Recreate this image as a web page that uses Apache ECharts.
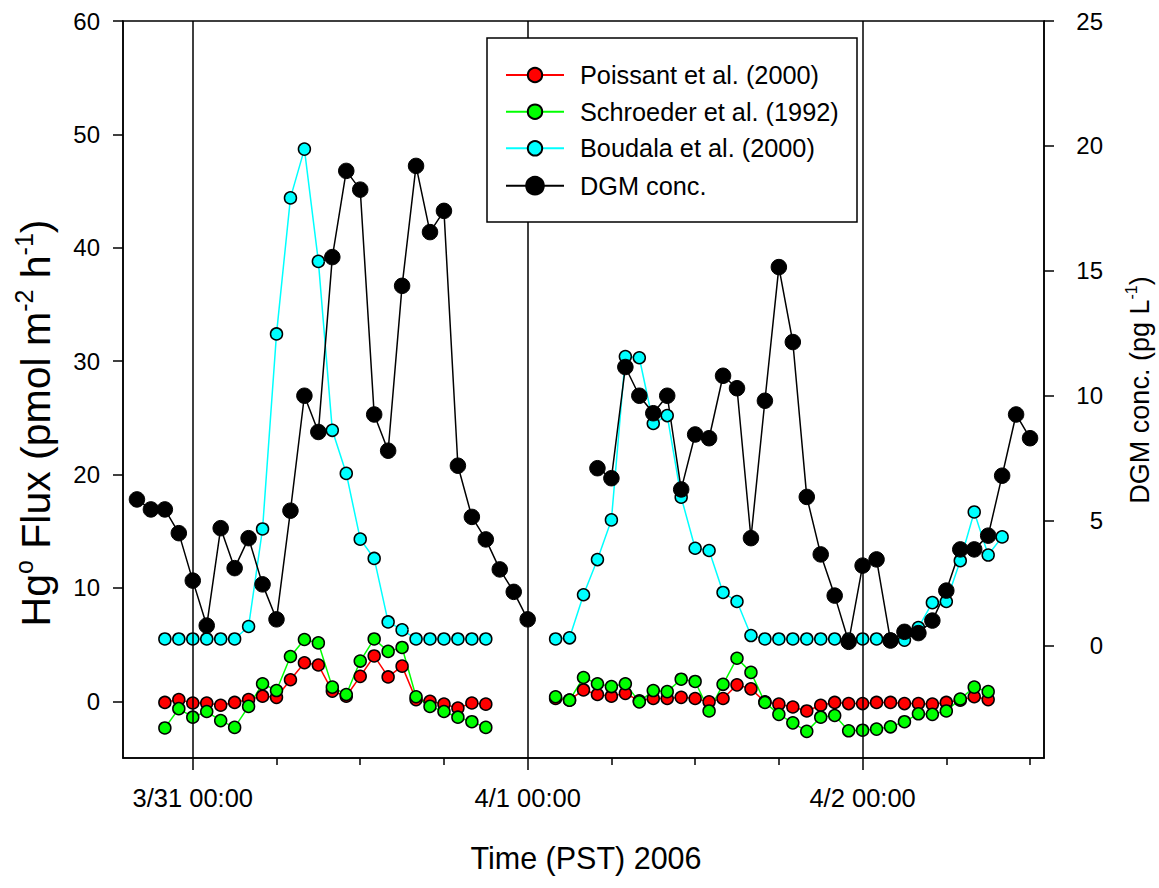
<!DOCTYPE html>
<html>
<head>
<meta charset="utf-8">
<script src="https://cdn.jsdelivr.net/npm/echarts@6/dist/echarts.min.js"></script>
<style>
  html, body { margin: 0; padding: 0; background: #fff; }
  #chart { width: 1159px; height: 888px; }
</style>
</head>
<body>
<div id="chart"></div>
<script>
// x: hours relative to 2006-03-31 00:00 PST
const hours = [-4,-3,-2,-1,0,1,2,3,4,5,
  6,7,8,9,10,11,12,13,14,15,
  16,17,18,19,20,21,22,23,24,25,
  26,27,28,29,30,31,32,33,34,35,
  36,37,38,39,40,41,42,43,44,45,
  46,47,48,49,50,51,52,53,54,55,
  56,57,58,59,60];

// Hg0 flux, pmol m-2 h-1 (left axis)
const poissant = [null, null, -0.1, 0.15, -0.15, -0.15, -0.35, -0.1, 0.15, 0.45,
  0.35, 1.9, 3.4, 3.2, 0.9, 0.45, 2.2, 4.0, 2.15, 3.1,
  0.15, 0.0, -0.25, -0.6, -0.15, -0.25, null, null, null, null,
  0.25, 0.1, 1.0, 0.6, 0.45, 0.7, 0.05, 0.25, 0.25, 0.35,
  0.25, -0.05, 0.25, 1.45, 1.1, -0.05, -0.25, -0.5, -0.85, -0.35,
  -0.1, -0.2, -0.2, -0.1, -0.1, -0.2, -0.2, -0.25, -0.1, 0.1,
  0.4, 0.15, null, null, null];

const schroeder = [null, null, -2.35, -0.65, -1.4, -0.9, -1.7, -2.3, -0.45, 1.55,
  0.95, 3.95, 5.45, 5.15, 1.25, 0.6, 3.55, 5.5, 4.4, 4.75,
  0.4, -0.45, -0.9, -1.4, -1.8, -2.3, null, null, null, null,
  0.4, 0.1, 2.1, 1.55, 1.3, 1.55, -0.05, 0.95, 0.85, 1.95,
  1.75, -0.85, 1.5, 3.8, 2.55, -0.1, -1.15, -1.9, -2.65, -1.4,
  -1.25, -2.6, -2.55, -2.45, -2.25, -1.8, -1.1, -1.15, -0.85, 0.2,
  1.25, 0.85, null, null, null];

const boudala = [null, null, 5.5, 5.5, 5.5, 5.5, 5.5, 5.5, 6.6, 15.2,
  32.4, 44.4, 48.7, 38.8, 23.9, 20.1, 14.3, 12.6, 7.0, 6.3,
  5.5, 5.5, 5.5, 5.5, 5.5, 5.5, null, null, null, null,
  5.5, 5.6, 9.4, 12.5, 16.0, 30.4, 30.3, 24.5, 25.2, 18.0,
  13.5, 13.3, 9.6, 8.8, 5.8, 5.5, 5.5, 5.5, 5.5, 5.5,
  5.5, 5.5, 5.5, 5.5, 5.5, 5.4, 6.5, 8.7, 8.8, 12.4,
  16.7, 12.9, 14.5, null, null];

// DGM concentration, pg L-1 (right axis)
const dgm = [5.85, 5.45, 5.45, 4.5, 2.6, 0.8, 4.7, 3.1, 4.3, 2.45,
  1.05, 5.4, 10.0, 8.55, 15.55, 19.0, 18.25, 9.25, 7.8, 14.4,
  19.2, 16.55, 17.4, 7.2, 5.15, 4.25, 3.05, 2.15, 1.05, null,
  null, null, null, 7.1, 6.7, 11.15, 10.0, 9.3, 10.0, 6.25,
  8.45, 8.3, 10.8, 10.3, 4.3, 9.8, 15.15, 12.15, 5.95, 3.65,
  2.0, 0.15, 3.2, 3.45, 0.2, 0.55, 0.5, 1.0, 2.2, 3.85,
  3.85, 4.4, 6.8, 9.25, 8.3];

const seriesNames = ['Poissant et al. (2000)', 'Schroeder et al. (1992)', 'Boudala et al. (2000)', 'DGM conc.'];
const dayTicks = [0, 24, 48];
const tickLabels = ['3/31 00:00', '4/1 00:00', '4/2 00:00'];
const minorTicks = [6, 12, 18, 30, 36, 42, 54, 60];
const leftTicks = [0, 10, 20, 30, 40, 50, 60];
const rightTicks = [0, 5, 10, 15, 20, 25];

const FONT = '"Liberation Sans", Arial, Helvetica, sans-serif';

function pairs(vals) {
  return hours.map((h, i) => [h, vals[i] == null ? null : vals[i]]);
}

const chart = echarts.init(document.getElementById('chart'), null, { renderer: 'svg' });

function fluxSeries(name, data, color, extra) {
  return Object.assign({
    name: name,
    type: 'line',
    xAxisIndex: 0,
    yAxisIndex: 0,
    data: pairs(data),
    connectNulls: false,
    symbol: 'circle',
    symbolSize: 12,
    showAllSymbol: true,
    silent: true,
    animation: false,
    lineStyle: { color: color, width: 1.5 },
    itemStyle: { color: color, borderColor: '#000', borderWidth: 1.5 },
    emphasis: { disabled: true }
  }, extra || {});
}

const legendRows = [75, 111.7, 148.3, 185.7];
const legends = seriesNames.map((n, i) => ({
  data: [n],
  orient: 'vertical',
  left: 505,
  top: legendRows[i] - 15,
  padding: 0,
  itemWidth: 58,
  itemHeight: i === 3 ? 22 : 18,
  selectedMode: false,
  z: 10,
  textStyle: { fontFamily: FONT, fontSize: 25.3, color: '#000', lineHeight: 30, padding: [0, 0, 0, 11] }
}));

const option = {
  backgroundColor: '#fff',
  animation: false,
  grid: { left: 123, right: 115, top: 21, bottom: 130, show: true, borderColor: '#000', borderWidth: 1.5, backgroundColor: 'transparent', containLabel: false },
  legend: legends,
  xAxis: [
    {
      type: 'value', min: -5, max: 61, position: 'bottom',
      axisLine: { show: true, onZero: false, lineStyle: { color: '#000', width: 1.5 } },
      axisTick: { show: true, customValues: dayTicks, length: 12, inside: false, lineStyle: { color: '#000', width: 1.5 } },
      axisLabel: { show: true, customValues: dayTicks, formatter: v => tickLabels[dayTicks.indexOf(v)] || '', fontFamily: FONT, fontSize: 25.5, color: '#000', margin: 27 },
      splitLine: { show: false }
    },
    {
      type: 'value', min: -5, max: 61, position: 'bottom',
      axisLine: { show: false, onZero: false },
      axisTick: { show: true, customValues: minorTicks, length: 7, inside: false, lineStyle: { color: '#000', width: 1.5 } },
      axisLabel: { show: false },
      splitLine: { show: false }
    }
  ],
  yAxis: [
    {
      type: 'value', min: -5, max: 60, position: 'left',
      axisLine: { show: true, onZero: false, lineStyle: { color: '#000', width: 1.5 } },
      axisTick: { show: true, customValues: leftTicks, length: 10, inside: false, lineStyle: { color: '#000', width: 1.5 } },
      axisLabel: { show: true, customValues: leftTicks, fontFamily: FONT, fontSize: 24, color: '#000', margin: 23 },
      splitLine: { show: false }
    },
    {
      type: 'value', min: -4.5, max: 25, position: 'right',
      axisLine: { show: true, onZero: false, lineStyle: { color: '#000', width: 1.5 } },
      axisTick: { show: true, customValues: rightTicks, length: 10, inside: false, lineStyle: { color: '#000', width: 1.5 } },
      axisLabel: { show: true, customValues: rightTicks, fontFamily: FONT, fontSize: 24, color: '#000', margin: 59, align: 'right' },
      splitLine: { show: false }
    }
  ],
  graphic: [
    {
      type: 'rect', z: 8, silent: true,
      shape: { x: 487, y: 38, width: 370, height: 184 },
      style: { fill: '#fff', stroke: '#000', lineWidth: 1.5 }
    },
    {
      type: 'text', z: 8, silent: true, x: 36, y: 423, rotation: Math.PI / 2,
      style: {
        text: '{n|Hg}{s|o}{n| Flux (pmol m}{s|-2}{n| h}{s|-1}{n|)}',
        align: 'center', verticalAlign: 'middle', fill: '#000',
        rich: {
          n: { fontFamily: FONT, fontSize: 41, lineHeight: 49, fill: '#000' },
          s: { fontFamily: FONT, fontSize: 25, lineHeight: 25, verticalAlign: 'top', fill: '#000' }
        }
      }
    },
    {
      type: 'text', z: 8, silent: true, x: 1140, y: 390, rotation: Math.PI / 2,
      style: {
        text: '{n|DGM conc. (pg L}{s|-1}{n|)}',
        align: 'center', verticalAlign: 'middle', fill: '#000',
        rich: {
          n: { fontFamily: FONT, fontSize: 27, lineHeight: 33, fill: '#000' },
          s: { fontFamily: FONT, fontSize: 16, lineHeight: 16, verticalAlign: 'top', fill: '#000' }
        }
      }
    },
    {
      type: 'text', z: 8, silent: true, x: 586, y: 858,
      style: { text: 'Time (PST) 2006', fontFamily: FONT, fontSize: 30.5, fill: '#000', align: 'center', verticalAlign: 'middle' }
    }
  ],
  series: [
    fluxSeries(seriesNames[0], poissant, '#ff0000', {
      markLine: {
        silent: true, symbol: 'none', animation: false,
        label: { show: false },
        lineStyle: { color: '#000', width: 1.5, type: 'solid' },
        emphasis: { disabled: true },
        data: dayTicks.map(d => ({ xAxis: d }))
      }
    }),
    fluxSeries(seriesNames[1], schroeder, '#00ff00'),
    fluxSeries(seriesNames[2], boudala, '#00ffff'),
    {
      name: seriesNames[3],
      type: 'line',
      xAxisIndex: 0,
      yAxisIndex: 1,
      data: pairs(dgm),
      connectNulls: false,
      symbol: 'circle',
      symbolSize: 15.5,
      showAllSymbol: true,
      silent: true,
      animation: false,
      lineStyle: { color: '#000', width: 1.5 },
      itemStyle: { color: '#000', borderColor: '#000', borderWidth: 1 },
      emphasis: { disabled: true }
    }
  ]
};

chart.setOption(option);
</script>
</body>
</html>
